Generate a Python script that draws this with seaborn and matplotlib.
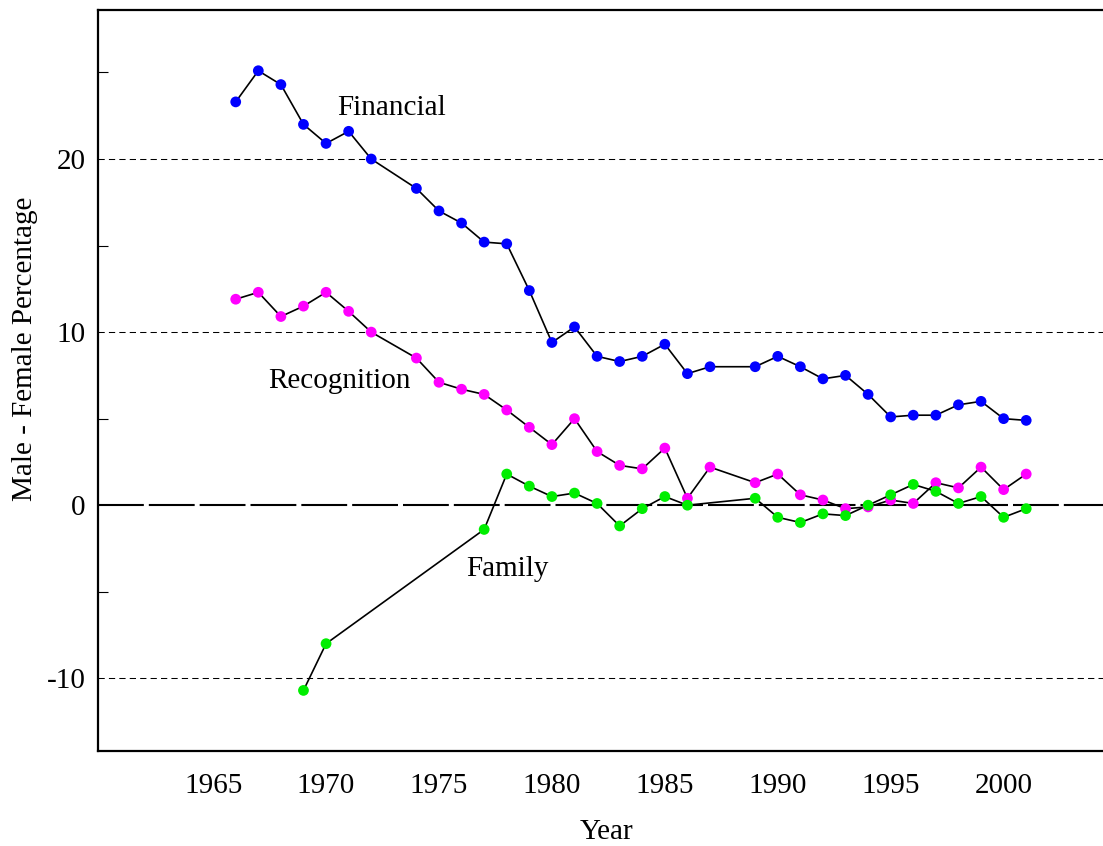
import numpy as np
import pandas as pd
import matplotlib
matplotlib.use("Agg")
import matplotlib.pyplot as plt
import seaborn as sns

# years with data (1973 and 1988 missing)
years_fr = list(range(1966, 1973)) + list(range(1974, 1988)) + list(range(1989, 2002))
financial = [23.3, 25.1, 24.3, 22.0, 20.9, 21.6, 20.0,
             18.3, 17.0, 16.3, 15.2, 15.1, 12.4, 9.4, 10.3, 8.6, 8.3, 8.6, 9.3, 7.6, 8.0,
             8.0, 8.6, 8.0, 7.3, 7.5, 6.4, 5.1, 5.2, 5.2, 5.8, 6.0, 5.0, 4.9]
recognition = [11.9, 12.3, 10.9, 11.5, 12.3, 11.2, 10.0,
               8.5, 7.1, 6.7, 6.4, 5.5, 4.5, 3.5, 5.0, 3.1, 2.3, 2.1, 3.3, 0.4, 2.2,
               1.3, 1.8, 0.6, 0.3, -0.2, -0.1, 0.3, 0.1, 1.3, 1.0, 2.2, 0.9, 1.8]
years_fam = [1969, 1970] + list(range(1977, 1987)) + list(range(1989, 2002))
family = [-10.7, -8.0,
          -1.4, 1.8, 1.1, 0.5, 0.7, 0.1, -1.2, -0.2, 0.5, 0.0,
          0.4, -0.7, -1.0, -0.5, -0.6, 0.0, 0.6, 1.2, 0.8, 0.1, 0.5, -0.7, -0.2]

sns.set_style("white")
plt.rcParams["font.family"] = ["Liberation Serif", "DejaVu Serif"]
plt.rcParams["font.size"] = 21
plt.rcParams["text.color"] = "black"
plt.rcParams["axes.labelcolor"] = "black"
plt.rcParams["xtick.color"] = "black"
plt.rcParams["ytick.color"] = "black"
plt.rcParams["axes.unicode_minus"] = False

fig = plt.figure(figsize=(11.03, 8.46), dpi=100)
ax = fig.add_axes([0.0888, 0.1123, 0.9112, 0.8757])

# reference lines
for v in [-10, 10, 20]:
    ax.axhline(v, color="black", lw=0.75, linestyle=(0, (6, 4)), zorder=1)
ax.axhline(0, color="black", lw=1.5, linestyle=(0, (22, 2.4)), zorder=1)

series = [
    (years_fr, financial, "#0000ff"),
    (years_fr, recognition, "#ff00ff"),
    (years_fam, family, "#00ee00"),
]
for xs, ys, col in series:
    df = pd.DataFrame({"year": xs, "value": ys})
    sns.lineplot(data=df, x="year", y="value", color="black", lw=1.2, ax=ax, zorder=2)
    sns.scatterplot(data=df, x="year", y="value", color=col, s=60, edgecolor="none",
                    ax=ax, zorder=3)

ax.text(1972.9, 22.95, "Financial", ha="center", va="center", fontsize=21)
ax.text(1970.6, 7.17, "Recognition", ha="center", va="center", fontsize=21)
ax.text(1978.05, -3.7, "Family", ha="center", va="center", fontsize=21)

ax.set_xlim(1959.9, 2004.4)
ax.set_ylim(-14.2, 28.6)
ax.set_xticks([1965, 1970, 1975, 1980, 1985, 1990, 1995, 2000])
ax.set_yticks([-10, 0, 10, 20])
ax.set_yticks([-5, 5, 15, 25], minor=True)
ax.tick_params(axis="x", direction="in", length=9.5, width=0.8, pad=16, labelsize=21)
ax.tick_params(axis="y", which="major", length=0, pad=9, labelsize=21)
ax.tick_params(axis="y", which="minor", direction="in", length=7.2, width=0.8, left=True)

for side in ["left", "bottom", "top"]:
    ax.spines[side].set_linewidth(1.6)
    ax.spines[side].set_color("black")
ax.spines["right"].set_visible(False)

ax.set_xlabel("Year", fontsize=21)
ax.set_ylabel("Male - Female Percentage", fontsize=21)
ax.xaxis.set_label_coords(0.506, -0.092)
ax.yaxis.set_label_coords(-0.06, 0.5425)

fig.savefig("out.png", dpi=100)
